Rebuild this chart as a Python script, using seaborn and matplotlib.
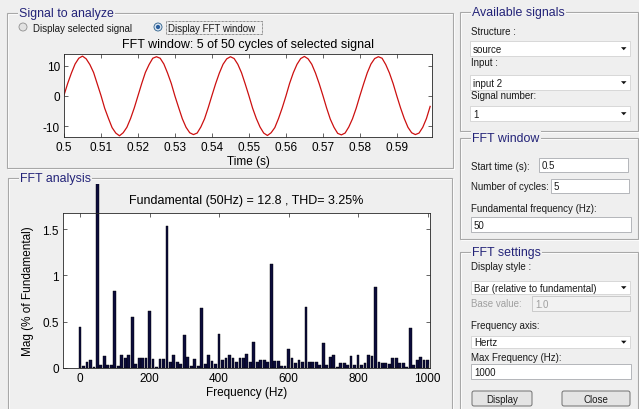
import numpy as np
import pandas as pd
import seaborn as sns
import matplotlib
matplotlib.use("Agg")
import matplotlib.pyplot as plt
from matplotlib.patches import Rectangle, Circle, FancyBboxPatch, Polygon
from matplotlib.transforms import Bbox, TransformedBbox

# ---------------- data ----------------
time_s = np.round(np.arange(0.500, 0.5995, 0.001), 3)
signal = [
    0.2, 4.1, 7.5, 10.5, 12.4, 13.1, 12.2, 10.3, 7.7, 3.9,
    0.1, -4.1, -7.4, -10.5, -12.3, -13.2, -12.2, -10.4, -7.5, -4.0,
    0.0, 4.0, 7.7, 10.3, 12.4, 12.9, 12.4, 10.5, 7.5, 4.1,
    -0.1, -3.9, -7.6, -10.4, -12.2, -12.8, -12.3, -10.3, -7.6, -3.9,
    0.1, 4.0, 7.5, 10.4, 12.2, 12.9, 12.3, 10.4, 7.6, 3.9,
    0.0, -4.1, -7.5, -10.3, -12.3, -13.1, -12.2, -10.5, -7.5, -4.0,
    -0.1, 4.1, 7.6, 10.4, 12.3, 13.0, 12.2, 10.4, 7.5, 4.0,
    0.1, -4.0, -7.7, -10.4, -12.4, -12.9, -12.3, -10.3, -7.6, -4.1,
    0.0, 3.9, 7.6, 10.5, 12.3, 12.9, 12.4, 10.3, 7.5, 4.0,
    -0.1, -4.0, -7.5, -10.4, -12.2, -12.8, -12.3, -10.4, -7.5, -3.5,
]
freq_hz = np.arange(0, 1001, 10)
mag_pct = [
    0.445, 0.02, 0.065, 0.09, 0.01, 100.0, 0.03, 0.13, 0.035, 0.035,
    0.83, 0.02, 0.135, 0.105, 0.135, 0.553, 0.045, 0.11, 0.105, 0.105,
    0.61, 0.10, 0.01, 0.10, 0.10, 1.53, 0.065, 0.145, 0.06, 0.04,
    0.36, 0.12, 0.02, 0.10, 0.02, 0.65, 0.04, 0.145, 0.08, 0.04,
    0.37, 0.085, 0.11, 0.14, 0.105, 0.07, 0.11, 0.105, 0.15, 0.06,
    0.285, 0.06, 0.09, 0.09, 0.065, 1.12, 0.08, 0.08, 0.025, 0.025,
    0.21, 0.11, 0.05, 0.085, 0.06, 0.655, 0.07, 0.07, 0.06, 0.035,
    0.265, 0.035, 0.115, 0.145, 0.015, 0.055, 0.055, 0.03, 0.13, 0.03,
    0.135, 0.03, 0.055, 0.135, 0.13, 0.87, 0.06, 0.05, 0.05, 0.045,
    0.11, 0.105, 0.05, 0.055, 0.01, 0.43, 0.035, 0.085, 0.12, 0.09,
    0.085,
]
time_ticks = [0.5, 0.51, 0.52, 0.53, 0.54, 0.55, 0.56, 0.57, 0.58, 0.59]
time_tick_labels = ["0.5", "0.51", "0.52", "0.53", "0.54", "0.55", "0.56", "0.57", "0.58", "0.59"]
sig_ticks = [-10, 0, 10]
sig_tick_labels = ["-10", "0", "10"]
freq_ticks = [0, 200, 400, 600, 800, 1000]
mag_ticks = [0, 0.5, 1, 1.5]
mag_tick_labels = ["0", "0.5", "1", "1.5"]

# ---------------- figure ----------------
BG = "#efefef"
TITLE_C = "#232378"
plt.rcParams["font.family"] = ["Liberation Sans", "DejaVu Sans"]
plt.rcParams["axes.unicode_minus"] = False
W, H = 639, 410
fig = plt.figure(figsize=(W / 100, H / 100), dpi=100, facecolor=BG)

bg = fig.add_axes([0, 0, 1, 1], zorder=0)
bg.set_xlim(0, W)
bg.set_ylim(H, 0)
bg.axis("off")

GUI_FS = 7.0


def ax_rect(l, t, r, b):
    return [l / W, 1 - b / H, (r - l) / W, (b - t) / H]


def panel(x0, y0, x1, y1, title):
    bg.add_patch(Rectangle((x0 + 1, y0 + 1), x1 - x0, y1 - y0, fill=False, ec="white", lw=0.8))
    bg.add_patch(Rectangle((x0, y0), x1 - x0, y1 - y0, fill=False, ec="#a8a8a8", lw=0.8))
    bg.text(x0 + 12, y0, title, va="center", ha="left", fontsize=8.9, color=TITLE_C,
            bbox=dict(fc=BG, ec="none", pad=1.0))


def label(x, y, s, color="#1a1a1a", size=GUI_FS):
    bg.text(x, y, s, va="center", ha="left", fontsize=size, color=color)


def dropdown(x0, y0, x1, y1, s):
    bg.add_patch(Rectangle((x0, y0), x1 - x0, y1 - y0, fc="white", ec="#d2d2d2", lw=0.6))
    yc = (y0 + y1) / 2
    bg.add_patch(Polygon([(x1 - 9, yc - 1.3), (x1 - 3.5, yc - 1.3), (x1 - 6.25, yc + 1.7)],
                         closed=True, fc="#111111", ec="none"))
    label(x0 + 3, yc + 0.5, s)


def textbox(x0, y0, x1, y1, s, color="#1a1a1a", fc="white", ec="#a9abb0"):
    bg.add_patch(Rectangle((x0, y0), x1 - x0, y1 - y0, fc=fc, ec=ec, lw=0.6))
    label(x0 + 3, (y0 + y1) / 2 + 0.5, s, color=color)


def button(x0, y0, x1, y1, s):
    bg.add_patch(FancyBboxPatch((x0, y0), x1 - x0, y1 - y0,
                                boxstyle="round,pad=0,rounding_size=2",
                                fc="#e4e4e4", ec="#707070", lw=0.7))
    bg.text((x0 + x1) / 2, (y0 + y1) / 2 + 0.5, s, ha="center", va="center",
            fontsize=GUI_FS, color="#1a1a1a")


# panels
panel(7, 14, 453, 169, "Signal to analyze")
panel(8, 179, 452, 413, "FFT analysis")
panel(460, 13, 637.5, 132, "Available signals")
panel(460, 139, 637.5, 240, "FFT window")
panel(460, 253, 637.5, 413, "FFT settings")

# radio buttons
bg.add_patch(Circle((23, 28), 4, fc="#e2e2e2", ec="#8f8f8f", lw=0.6))
label(33, 28.5, "Display selected signal")
bg.add_patch(Circle((158, 28), 4, fc="#d8e4f0", ec="#2c5f8a", lw=0.6))
bg.add_patch(Circle((158, 28), 2.1, fc="#2a5f9e", ec="none"))
label(168, 28.5, "Display FFT window")
bg.add_patch(Rectangle((166, 22), 96, 12.5, fill=False, ec="#333333", lw=0.5, ls=(0, (1, 1))))

# right side controls
label(471, 32, "Structure :")
dropdown(470, 42, 630, 57, "source")
label(471, 63, "Input :")
dropdown(470, 76, 630, 91, "input 2")
label(471, 96, "Signal number:")
dropdown(470, 107, 630, 122, "1")

label(471, 167, "Start time (s):")
textbox(539, 159, 628, 173, "0.5")
label(471, 187, "Number of cycles:")
textbox(551, 180, 629, 194, "5")
label(471, 209, "Fundamental frequency (Hz):")
textbox(471, 218, 631, 233, "50")

label(471, 267, "Display style :")
dropdown(471, 282, 630, 295, "Bar (relative to fundamental)")
label(471, 304, "Base value:", color="#a0a0a0")
textbox(532, 297, 630, 312, "1.0", color="#a0a0a0", fc="#f2f2f2", ec="#c4c4c4")
label(471, 326, "Frequency axis:")
dropdown(471, 337, 630, 349, "Hertz")
label(471, 358, "Max Frequency (Hz):")
textbox(471, 365, 631, 380, "1000")
button(472, 392, 532, 407, "Display")
button(562, 392, 630, 407, "Close")

# ---------------- plots ----------------
TICK_FS = 8.5


def style_axes(ax):
    ax.set_facecolor("white")
    for sp in ax.spines.values():
        sp.set_color("#262626")
        sp.set_linewidth(0.6)
    ax.tick_params(direction="in", length=3, width=0.5, color="#262626",
                   top=True, right=True, labelsize=TICK_FS, pad=3)


ax1 = fig.add_axes(ax_rect(64, 55, 432, 138), zorder=2)
sig_df = pd.DataFrame({"time": time_s, "signal": signal})
sns.lineplot(data=sig_df, x="time", y="signal", color="#cc1010", lw=0.9,
             estimator=None, ax=ax1)
ax1.set_xlim(0.5, 0.5995)
ax1.set_ylim(-13.6, 13.8)
ax1.set_xticks(time_ticks)
ax1.set_xticklabels(time_tick_labels)
ax1.set_yticks(sig_ticks)
ax1.set_yticklabels(sig_tick_labels)
ax1.set_xlabel("Time (s)", fontsize=TICK_FS, labelpad=1)
ax1.set_ylabel("")
ax1.set_title("FFT window: 5 of 50 cycles of selected signal", fontsize=9, pad=5)
style_axes(ax1)

ax2 = fig.add_axes(ax_rect(63, 214, 430, 369), zorder=2)
fft_df = pd.DataFrame({"freq": freq_hz, "mag": mag_pct})
sns.barplot(data=fft_df, x="freq", y="mag", native_scale=True, color="#0c0c3c",
            saturation=1, width=0.8, errorbar=None, edgecolor="#000000",
            linewidth=0.3, ax=ax2)
ax2.set_xlim(-49, 1007)
ax2.set_ylim(0, 1.673)
ax2.set_xticks(freq_ticks)
ax2.set_xticklabels([str(v) for v in freq_ticks])
ax2.set_yticks(mag_ticks)
ax2.set_yticklabels(mag_tick_labels)
ax2.set_xlabel("Frequency (Hz)", fontsize=TICK_FS, labelpad=1)
ax2.set_ylabel("Mag (% of Fundamental)", fontsize=TICK_FS, labelpad=6)
ax2.set_title("Fundamental (50Hz) = 12.8 , THD= 3.25%", fontsize=9, pad=7)
style_axes(ax2)

# the fundamental bar runs out of the axes up to the panel frame
clip = TransformedBbox(Bbox([[0, 0], [1, 1 - 185 / H]]), fig.transFigure)
for p in ax2.patches:
    if p.get_height() > 2:
        p.set_clip_on(True)
        p.set_clip_box(clip)
        p.set_clip_path(None)

fig.savefig("out.png", dpi=100, facecolor=BG)
